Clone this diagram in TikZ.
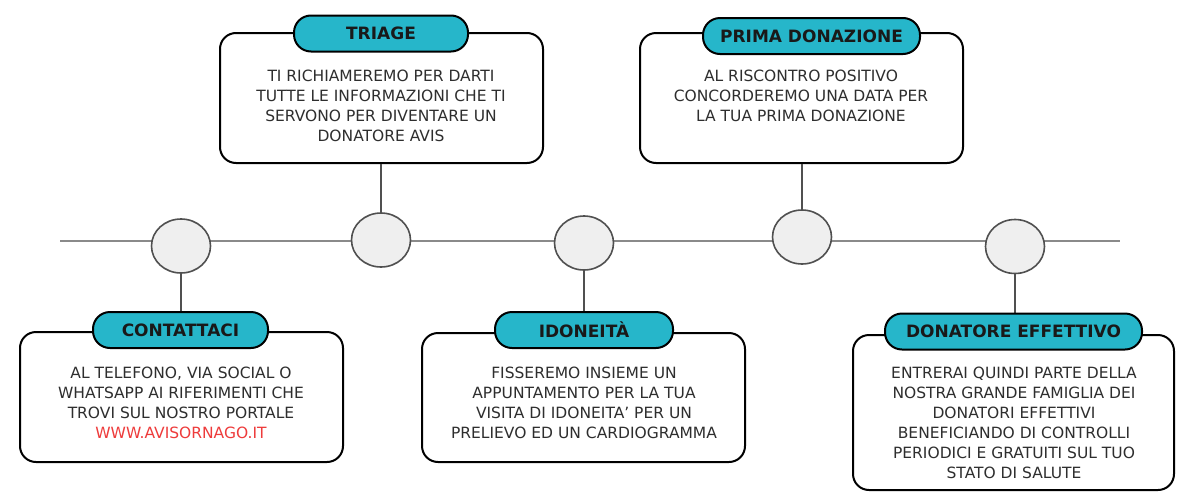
\documentclass[tikz,border=0pt]{standalone}
\usepackage{fontspec}
\setmainfont{DejaVu Sans}
\usetikzlibrary{shapes.geometric}
\definecolor{tabcyan}{HTML}{26B6CA}
\definecolor{circfill}{HTML}{EFEFEF}
\definecolor{circline}{HTML}{505050}
\definecolor{tline}{HTML}{8A8A8A}
\definecolor{bodytxt}{HTML}{2E2E2E}
\definecolor{linkred}{HTML}{EE3B3B}
\tikzset{
  box/.style={draw=black, line width=2pt, rounded corners=16pt, fill=white, minimum width=#1, inner sep=0pt},
  tab/.style={draw=black, line width=2pt, rounded corners=17pt, fill=tabcyan, minimum height=36pt, minimum width=#1, inner sep=0pt, font=\fontsize{17}{19}\selectfont\bfseries, text=black!90},
  body/.style={align=center, font=\fontsize{15.5}{20}\selectfont, text=bodytxt, inner sep=0pt},
  dot/.style={ellipse, draw=circline, line width=1.6pt, fill=circfill, minimum width=59pt, minimum height=54pt, inner sep=0pt},
  conn/.style={draw=circline, line width=1.8pt},
  axis/.style={draw=tline, line width=1.8pt}
}
\begin{document}
\begin{tikzpicture}[x=1pt,y=-1pt]
\useasboundingbox (0,0) rectangle (1178,493);
% timeline
\coordinate (L) at (60,241);
\coordinate (R) at (1120,241);
\draw[axis] (L) -- (R);
% circles
\node[dot] (c1) at (181,246) {};
\node[dot] (c2) at (381,240) {};
\node[dot] (c3) at (584,243) {};
\node[dot] (c4) at (802,237) {};
\node[dot] (c5) at (1015,246.5) {};
% boxes
\node[box=323pt, minimum height=130pt] (b1) at (181.5,397) {};
\node[box=323pt, minimum height=129pt] (b2) at (583.5,397.5) {};
\node[box=321pt, minimum height=155pt] (b3) at (1013.5,412.5) {};
\node[box=323pt, minimum height=130pt] (b4) at (381.5,98) {};
\node[box=323pt, minimum height=130pt] (b5) at (801.5,98) {};
% connectors
\draw[conn] (c1.south) -- (b1.north -| c1.south);
\draw[conn] (c3.south) -- (b2.north -| c3.south);
\draw[conn] (c5.south) -- (b3.north -| c5.south);
\draw[conn] (b4.south -| c2.north) -- (c2.north);
\draw[conn] (b5.south -| c4.north) -- (c4.north);
% tabs
\node[tab=175pt] (t1) at (180.5,330) {CONTATTACI};
\node[tab=178pt] (t2) at (584,330) {IDONEITÀ};
\node[tab=257pt] (t3) at (1013.5,331.5) {DONATORE EFFETTIVO};
\node[tab=174pt] (t4) at (381,33.5) {TRIAGE};
\node[tab=217pt] (t5) at (811.5,36) {PRIMA DONAZIONE};
% body texts
\node[body] (x1) at (181,403) {AL TELEFONO, VIA SOCIAL O\\WHATSAPP AI RIFERIMENTI CHE\\TROVI SUL NOSTRO PORTALE\\\textcolor{linkred}{WWW.AVISORNAGO.IT}};
\node[body] (x2) at (584,403) {FISSEREMO INSIEME UN\\APPUNTAMENTO PER LA TUA\\VISITA DI IDONEITA' PER UN\\PRELIEVO ED UN CARDIOGRAMMA};
\node[body] (x3) at (1014,422.5) {ENTRERAI QUINDI PARTE DELLA\\NOSTRA GRANDE FAMIGLIA DEI\\DONATORI EFFETTIVI\\BENEFICIANDO DI CONTROLLI\\PERIODICI E GRATUITI SUL TUO\\STATO DI SALUTE};
\node[body] (x4) at (381,106) {TI RICHIAMEREMO PER DARTI\\TUTTE LE INFORMAZIONI CHE TI\\SERVONO PER DIVENTARE UN\\DONATORE AVIS};
\node[body] (x5) at (801,95.5) {AL RISCONTRO POSITIVO\\CONCORDEREMO UNA DATA PER\\LA TUA PRIMA DONAZIONE};
\end{tikzpicture}
\end{document}
